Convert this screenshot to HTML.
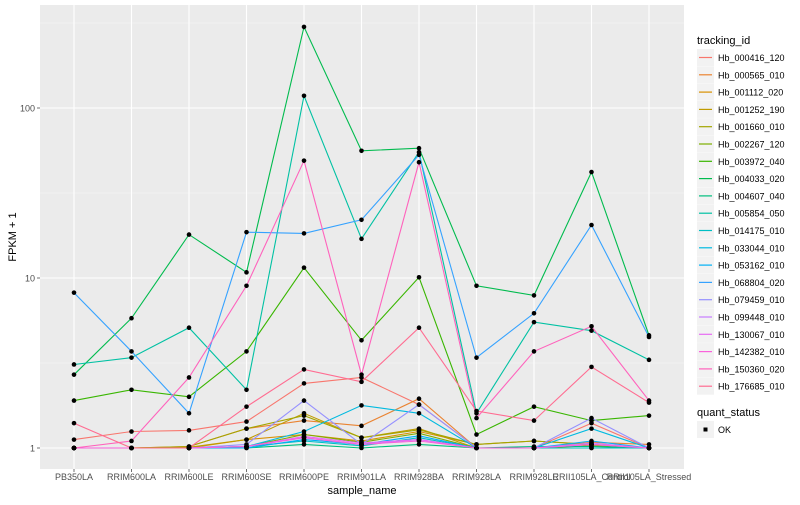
<!DOCTYPE html>
<html><head><meta charset="utf-8"><style>
body{margin:0;background:#fff;font-family:"Liberation Sans",sans-serif;}
svg text{font-family:"Liberation Sans",sans-serif;}
</style></head><body>
<svg id="chart" width="800" height="500" xmlns="http://www.w3.org/2000/svg"></svg>
<script>
const categories=["PB350LA","RRIM600LA","RRIM600LE","RRIM600SE","RRIM600PE","RRIM901LA","RRIM928BA","RRIM928LA","RRIM928LE","RRII105LA_Control","RRII105LA_Stressed"];
const seriesNames=["Hb_000416_120","Hb_000565_010","Hb_001112_020","Hb_001252_190","Hb_001660_010","Hb_002267_120","Hb_003972_040","Hb_004033_020","Hb_004607_040","Hb_005854_050","Hb_014175_010","Hb_033044_010","Hb_053162_010","Hb_068804_020","Hb_079459_010","Hb_099448_010","Hb_130067_010","Hb_142382_010","Hb_150360_020","Hb_176685_010"];
const seriesColors=["#F8766D","#EA8331","#D89000","#C09B00","#A3A500","#7CAE00","#39B600","#00BB4E","#00BF7D","#00C1A3","#00BFC4","#00BAE0","#00B0F6","#35A2FF","#9590FF","#C77CFF","#E76BF3","#FA62DB","#FF62BC","#FF6C91"];
const v0=[1.12,1.25,1.27,1.43,2.4,2.6,1.8,1.0,1.0,1.4,1.0];
const v1=[1.0,1.0,1.02,1.3,1.45,1.35,1.95,1.0,1.0,1.08,1.05];
const v2=[1.0,1.0,1.0,1.12,1.2,1.1,1.25,1.05,1.1,1.05,1.0];
const v3=[1.0,1.0,1.01,1.12,1.6,1.15,1.3,1.0,1.0,1.0,1.0];
const v4=[1.0,1.0,1.02,1.3,1.55,1.15,1.28,1.05,1.1,1.05,1.0];
const v5=[1.0,1.0,1.0,1.02,1.2,1.08,1.22,1.0,1.0,1.03,1.0];
const v6=[1.9,2.2,2.0,3.7,11.5,4.3,10.1,1.2,1.75,1.45,1.55];
const v7=[2.7,5.8,18,10.8,300,56,58,9,7.9,42,4.6];
const v8=[1.0,1.0,1.0,1.0,1.05,1.0,1.05,1.0,1.02,1.02,1.0];
const v9=[3.1,3.4,5.1,2.2,118,17,55,1.6,5.5,4.9,3.3];
const v10=[1.0,1.0,1.0,1.02,1.1,1.03,1.15,1.0,1.0,1.0,1.0];
const v11=[1.0,1.0,1.0,1.02,1.25,1.78,1.6,1.0,1.0,1.3,1.0];
const v12=[1.0,1.0,1.0,1.0,1.12,1.05,1.18,1.0,1.0,1.1,1.0];
const v13=[8.2,3.7,1.6,18.6,18.3,22,53,3.4,6.2,20.5,4.5];
const v14=[1.0,1.0,1.0,1.05,1.9,1.05,1.8,1.0,1.0,1.5,1.0];
const v15=[1.0,1.0,1.0,1.02,1.15,1.05,1.12,1.0,1.0,1.07,1.0];
const v16=[1.0,1.0,1.0,1.02,1.17,1.07,1.12,1.0,1.0,1.05,1.0];
const v17=[1.0,1.0,1.0,1.02,1.15,1.05,1.1,1.0,1.0,1.05,1.0];
const v18=[1.0,1.1,2.6,9,49,2.7,48,1.5,3.7,5.2,1.9];
const v19=[1.4,1.0,1.0,1.75,2.9,2.45,5.1,1.65,1.45,3.0,1.85];
const seriesValues=[v0,v1,v2,v3,v4,v5,v6,v7,v8,v9,v10,v11,v12,v13,v14,v15,v16,v17,v18,v19];
const yTicks=[1,10,100];
const yTickLabels=["1","10","100"];
const yMinor=[Math.sqrt(10),Math.sqrt(1000),Math.sqrt(100000)];

const NS="http://www.w3.org/2000/svg";
const svg=document.getElementById("chart");
const P={l:40,r:684,t:5,b:469};
function xs(i){return 74+i*57.5;}
function ys(v){return 448-170*Math.log10(v);}
function el(tag,attrs,parent){const e=document.createElementNS(NS,tag);for(const k in attrs)e.setAttribute(k,attrs[k]);(parent||svg).appendChild(e);return e;}

const panel=el("rect",{x:P.l,y:P.t,width:P.r-P.l,height:P.b-P.t,fill:"#EBEBEB"});


yMinor.forEach(v=>{const g=el("line",{x1:P.l,x2:P.r,y1:ys(v),y2:ys(v),stroke:"#F5F5F5","stroke-width":0.6});

});
yTicks.forEach((v,i)=>{const g=el("line",{x1:P.l,x2:P.r,y1:ys(v),y2:ys(v),stroke:"#fff","stroke-width":1.1});


const tk=el("line",{x1:P.l-3,x2:P.l,y1:ys(v),y2:ys(v),stroke:"#4D4D4D","stroke-width":0.8});


const t=el("text",{x:P.l-5,y:ys(v)+3.5,"text-anchor":"end","font-size":9,fill:"#4D4D4D"});t.textContent=yTickLabels[i];

});
categories.forEach((c,i)=>{const g=el("line",{x1:xs(i),x2:xs(i),y1:P.t,y2:P.b,stroke:"#fff","stroke-width":1.1});


const tk=el("line",{x1:xs(i),x2:xs(i),y1:P.b,y2:P.b+3,stroke:"#4D4D4D","stroke-width":0.8});


const t=el("text",{x:xs(i),y:P.b+11,"text-anchor":"middle","font-size":9,fill:"#4D4D4D"});t.textContent=c;

});
seriesValues.forEach((vals,s)=>{
const d=vals.map((v,i)=>(i?"L":"M")+xs(i).toFixed(1)+","+ys(v).toFixed(1)).join("");
const p=el("path",{d:d,fill:"none",stroke:seriesColors[s],"stroke-width":1.1});

});
seriesValues.forEach((vals)=>{vals.forEach((v,i)=>{const r=el("circle",{cx:xs(i),cy:ys(v),r:2.3,fill:"#000"});

});});
let t=el("text",{x:(P.l+P.r)/2,y:494,"text-anchor":"middle","font-size":11,fill:"#000"});t.textContent="sample_name";


t=el("text",{x:16,y:(P.t+P.b)/2,"text-anchor":"middle","font-size":11,fill:"#000",transform:"rotate(-90 16 "+(P.t+P.b)/2+")"});t.textContent="FPKM + 1";


t=el("text",{x:697,y:44,"font-size":11,fill:"#000"});t.textContent="tracking_id";


seriesNames.forEach((n,i)=>{const y=49+i*17.3;
const k=el("rect",{x:697,y:y,width:17,height:17,fill:"#F2F2F2"});


const l=el("line",{x1:699,x2:712,y1:y+8.5,y2:y+8.5,stroke:seriesColors[i],"stroke-width":1.2});


const tx=el("text",{x:718,y:y+12,"font-size":9,fill:"#000"});tx.textContent=n;

});
t=el("text",{x:697,y:416,"font-size":11,fill:"#000"});t.textContent="quant_status";


const qk=el("rect",{x:697,y:421,width:17,height:17,fill:"#F2F2F2"});


const qd=el("rect",{x:703.5,y:427.5,width:4,height:4,fill:"#000"});


t=el("text",{x:718,y:433,"font-size":9,fill:"#000"});t.textContent="OK";


</script>
</body></html>
